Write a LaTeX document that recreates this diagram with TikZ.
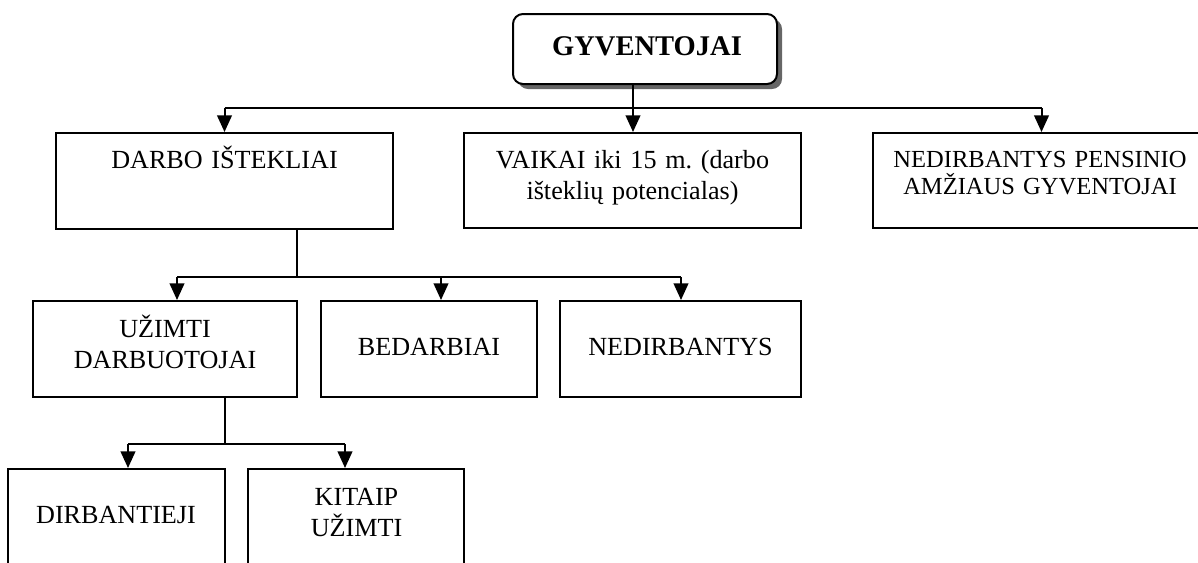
\documentclass[tikz,border=0pt]{standalone}
\usepackage{fontspec}
\setmainfont{Liberation Serif}
\usetikzlibrary{arrows.meta,shadows}
\begin{document}
\frenchspacing
\begin{tikzpicture}[x=0.75pt,y=-0.75pt,
  box/.style={draw, line width=1.5pt, rectangle, inner sep=0pt},
  lbl/.style={anchor=base, align=center, inner sep=0pt, text width=#1,
    font=\fontsize{19.6}{23.8}\selectfont},
  lbl/.default=240pt,
  conn/.style={line width=1.5pt},
  arr/.style={conn, -{Triangle[length=12.5pt,width=11pt]}}]
\useasboundingbox (0,0) rectangle (1198,562);
\clip (0,0) rectangle (1198,562);

% boxes
\node[box, rounded corners=7.5pt, minimum width=198pt, minimum height=52.5pt,
  fill=white, drop shadow={shadow xshift=3.75pt, shadow yshift=-3.75pt, fill=black!60, opacity=1}]
  (gyv) at (645,49) {};
\node[box, minimum width=252.75pt, minimum height=72pt] (darbo) at (224.5,181) {};
\node[box, minimum width=252.75pt, minimum height=71.25pt] (vaikai) at (632.5,180.5) {};
\node[box, minimum width=252.75pt, minimum height=71.25pt] (pens) at (1041.5,180.5) {};
\node[box, minimum width=198pt, minimum height=72pt] (uzimti) at (165,349) {};
\node[box, minimum width=162pt, minimum height=72pt] (bedarb) at (429,349) {};
\node[box, minimum width=180.75pt, minimum height=72pt] (nedirb) at (680.5,349) {};
\node[box, minimum width=162.75pt, minimum height=72pt] (dirb) at (116.5,517) {};
\node[box, minimum width=162pt, minimum height=72pt] (kitaip) at (356,517) {};

% texts
\node[lbl, font=\fontsize{21.4}{25}\selectfont\bfseries] (gyv-t) at (647,55) {GYVENTOJAI};
\node[lbl] (darbo-t) at (224.5,168) {DARBO IŠTEKLIAI};
\node[lbl] (vaikai-t) at (632.5,168) {VAIKAI iki 15 m. (darbo\\ išteklių potencialas)};
\node[lbl, font=\fontsize{18.4}{20.7}\selectfont] (pens-t) at (1040,167) {NEDIRBANTYS PENSINIO\\ AMŽIAUS GYVENTOJAI};
\node[lbl=190pt] (uzimti-t) at (165,337) {UŽIMTI\\ DARBUOTOJAI};
\node[lbl=160pt] (bedarb-t) at (429,355) {BEDARBIAI};
\node[lbl=175pt] (nedirb-t) at (680.5,355) {NEDIRBANTYS};
\node[lbl=160pt] (dirb-t) at (116,523) {DIRBANTIEJI};
\node[lbl=160pt] (kitaip-t) at (356.5,505) {KITAIP\\ UŽIMTI};

% level 1 connectors
\coordinate (j1) at (633,108);
\draw[conn] (j1 -| darbo.north) -- (j1 -| pens.north);
\draw[arr] (gyv.south -| j1) -- (vaikai.north -| j1);
\draw[arr] (j1 -| darbo.north) -- (darbo.north);
\draw[arr] (j1 -| pens.north) -- (pens.north);

% level 2 connectors
\coordinate (j2) at (297,277);
\coordinate (a1) at (177,277);
\coordinate (a2) at (441,277);
\coordinate (a3) at (681,277);
\draw[conn] (darbo.south -| j2) -- (j2);
\draw[conn] (a1) -- (a3);
\draw[arr] (a1) -- (uzimti.north -| a1);
\draw[arr] (a2) -- (bedarb.north -| a2);
\draw[arr] (a3) -- (nedirb.north -| a3);

% level 3 connectors
\coordinate (j3) at (225,444);
\coordinate (c1) at (128,444);
\coordinate (c2) at (345,444);
\draw[conn] (uzimti.south -| j3) -- (j3);
\draw[conn] (c1) -- (c2);
\draw[arr] (c1) -- (dirb.north -| c1);
\draw[arr] (c2) -- (kitaip.north -| c2);
\end{tikzpicture}
\end{document}
